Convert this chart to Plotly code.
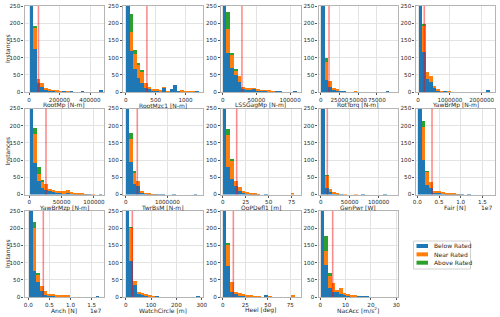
import plotly.graph_objects as go

# ---------------- data ----------------
panel_names = ["RootMp [N-m]", "RootMzc1 [N-m]", "LSSGagMp [N-m]", "RotTorq [N-m]", "YawBrMp [N-m]",
               "YawBrMzp [N-m]", "TwrBsM [N-m]", "OoPDefl1 [m]", "GenPwr [W]", "Fair [N]",
               "Anch [N]", "WatchCircle [m]", "Heel [deg]", "NacAcc [m/s<sup>2</sup>]"]
series_names = ["Below Rated", "Near Rated", "Above Rated"]

bin_start = [0] * 14
bin_width = [24000, 61, 5500, 4800, 112000, 5600, 86000, 4.1, 6300, 880000, 880000, 14.6, 4.2, 1.45]
rated_value = [62000, 353, 28600, 11100, 197000, 25800, 278000, 15.2, 11400, 3.39e6, 3.56e6, 26, 11.8, 4.9]

below_RootMp = [1000, 125, 25, 16, 8, 4, 3, 2, 1, 1, 1, 1, 0, 0, 1, 0, 0, 0, 0, 5]
near_RootMp = [0, 62, 14, 10, 4, 2, 2, 1, 1, 0, 1, 0, 0, 0, 0, 0, 0, 0, 0, 0]
above_RootMp = [0, 2, 0, 0, 0, 0, 0, 0, 0, 0, 0, 0, 0, 0, 0, 0, 0, 0, 0, 0]

below_RootMzc1 = [1000, 120, 67, 40, 25, 12, 8, 5, 3, 2, 12, 1, 8, 19, 1, 1, 0, 0, 0, 1]
near_RootMzc1 = [0, 55, 44, 40, 36, 14, 8, 5, 4, 2, 1, 1, 0, 0, 0, 3, 2, 2, 1, 0]
above_RootMzc1 = [0, 52, 10, 3, 1, 0, 0, 0, 0, 0, 0, 0, 0, 0, 0, 0, 0, 0, 0, 0]

below_LSSGagMp = [1000, 113, 70, 48, 28, 8, 6, 7, 9, 5, 4, 3, 2, 1, 1, 1, 0, 0, 0, 1]
near_LSSGagMp = [0, 70, 38, 15, 18, 8, 6, 5, 1, 2, 1, 1, 1, 1, 0, 0, 0, 0, 0, 0]
above_LSSGagMp = [0, 50, 4, 2, 0, 0, 0, 0, 0, 0, 0, 0, 0, 0, 0, 0, 0, 0, 0, 0]

below_RotTorq = [1000, 35, 15, 8, 4, 2, 1, 0, 0, 0, 0, 0, 0, 0, 0, 0, 0, 0, 2, 0]
near_RotTorq = [0, 51, 17, 3, 2, 0, 0, 0, 0, 2, 0, 0, 0, 0, 0, 0, 0, 0, 0, 0]
above_RotTorq = [0, 13, 0, 0, 0, 0, 0, 0, 0, 0, 0, 0, 0, 0, 0, 0, 0, 0, 0, 0]

below_YawBrMp = [1000, 117, 37, 29, 12, 5, 1, 1, 0, 0, 0, 0, 0, 0, 0, 0, 0, 0, 0, 3]
near_YawBrMp = [0, 75, 21, 17, 6, 2, 1, 0, 1, 0, 0, 0, 0, 0, 0, 0, 0, 0, 0, 0]
above_YawBrMp = [0, 5, 0, 0, 0, 0, 0, 0, 0, 0, 0, 0, 0, 0, 0, 0, 0, 0, 0, 0]

below_YawBrMzp = [1000, 93, 40, 21, 15, 11, 8, 6, 5, 4, 5, 3, 2, 2, 1, 1, 1, 0, 0, 1]
near_YawBrMzp = [0, 83, 22, 18, 18, 7, 7, 7, 6, 9, 10, 5, 4, 2, 2, 1, 0, 1, 0, 0]
above_YawBrMzp = [0, 18, 19, 5, 0, 0, 0, 0, 0, 0, 0, 0, 0, 0, 0, 0, 0, 0, 0, 0]

below_TwrBsM = [1000, 96, 32, 25, 8, 3, 2, 1, 1, 1, 1, 0, 0, 1, 0, 0, 0, 0, 0, 1]
near_TwrBsM = [0, 66, 32, 17, 5, 2, 1, 1, 1, 0, 0, 0, 0, 0, 0, 0, 0, 0, 0, 0]
above_TwrBsM = [0, 18, 5, 0, 0, 0, 0, 0, 0, 0, 0, 0, 0, 0, 0, 0, 0, 0, 0, 0]

below_OoPDefl1 = [1000, 81, 47, 27, 13, 5, 4, 2, 1, 1, 0, 1, 0, 0, 0, 0, 0, 0, 0, 0]
near_OoPDefl1 = [0, 94, 54, 15, 11, 8, 6, 4, 2, 1, 0, 0, 0, 0, 0, 0, 0, 0, 3, 0]
above_OoPDefl1 = [0, 16, 2, 0, 0, 0, 0, 0, 0, 0, 0, 0, 0, 0, 0, 0, 0, 0, 0, 0]

below_GenPwr = [1000, 21, 10, 4, 2, 1, 0, 0, 0, 0, 0, 1, 0, 0, 0, 0, 0, 1, 0, 0]
near_GenPwr = [0, 35, 7, 3, 1, 0, 1, 0, 0, 2, 0, 0, 0, 0, 0, 0, 0, 0, 0, 0]
above_GenPwr = [0, 1, 0, 0, 0, 0, 0, 0, 0, 0, 0, 0, 0, 0, 0, 0, 0, 0, 0, 0]

below_Fair = [1000, 101, 29, 21, 7, 5, 3, 2, 2, 1, 1, 1, 0, 1, 0, 0, 0, 0, 0, 0]
near_Fair = [0, 98, 38, 16, 6, 6, 4, 3, 2, 2, 1, 0, 0, 0, 0, 0, 0, 0, 0, 0]
above_Fair = [0, 17, 2, 0, 0, 0, 0, 0, 0, 0, 0, 0, 0, 0, 0, 0, 0, 0, 0, 0]

below_Anch = [1000, 76, 45, 18, 7, 4, 3, 2, 1, 1, 1, 0, 0, 0, 0, 0, 0, 0, 1, 0]
near_Anch = [0, 126, 20, 14, 11, 6, 5, 3, 3, 2, 2, 0, 0, 0, 0, 0, 0, 0, 0, 0]
above_Anch = [0, 15, 2, 0, 0, 0, 0, 0, 0, 0, 0, 0, 0, 0, 0, 0, 0, 0, 0, 0]

below_WatchCircle = [1000, 105, 35, 11, 6, 4, 2, 1, 1, 0, 0, 0, 0, 0, 0, 0, 0, 0, 0, 1]
near_WatchCircle = [0, 96, 11, 5, 5, 2, 1, 1, 0, 0, 0, 0, 0, 0, 0, 0, 0, 0, 0, 0]
above_WatchCircle = [0, 1, 0, 0, 0, 0, 0, 0, 0, 0, 0, 0, 0, 0, 0, 0, 0, 0, 0, 0]

below_Heel = [1000, 89, 15, 8, 4, 3, 2, 2, 1, 0, 0, 3, 0, 0, 0, 0, 0, 0, 0, 0]
near_Heel = [0, 64, 28, 6, 7, 4, 2, 2, 1, 1, 0, 0, 1, 0, 0, 0, 0, 0, 3, 0]
above_Heel = [0, 5, 0, 0, 0, 0, 0, 0, 0, 0, 0, 0, 0, 0, 0, 0, 0, 0, 0, 0]

below_NacAcc = [1000, 94, 25, 14, 15, 9, 6, 3, 2, 2, 1, 1, 1, 0, 0, 0, 0, 0, 0, 0]
near_NacAcc = [0, 40, 35, 28, 5, 17, 6, 3, 3, 1, 0, 0, 0, 0, 0, 0, 0, 0, 0, 0]
above_NacAcc = [0, 42, 10, 0, 0, 0, 0, 0, 0, 0, 0, 0, 0, 0, 0, 0, 0, 0, 0, 0]

x_tickvals = [[0, 200000, 400000], [0, 500, 1000], [0, 50000, 100000], [0, 25000, 50000, 75000],
              [0, 1000000, 2000000], [0, 50000, 100000], [0, 1000000], [0, 25, 50, 75],
              [0, 50000, 100000], [0, 5e6, 1e7, 1.5e7], [0, 5e6, 1e7, 1.5e7], [0, 100, 200, 300],
              [0, 25, 50, 75], [0, 10, 20, 30]]
x_ticktext = [["0", "200000", "400000"], ["0", "500", "1000"], ["0", "50000", "100000"],
              ["0", "25000", "50000", "75000"], ["0", "1000000", "2000000"], ["0", "50000", "100000"],
              ["0", "1000000"], ["0", "25", "50", "75"], ["0", "50000", "100000"],
              ["0.0", "0.5", "1.0", "1.5"], ["0.0", "0.5", "1.0", "1.5"], ["0", "100", "200", "300"],
              ["0", "25", "50", "75"], ["0", "10", "20", "30"]]
offset_text = ["", "", "", "", "", "", "", "", "", "1e7", "1e7", "", "", ""]
y_tickvals = [0, 50, 100, 150, 200, 250]

below = [below_RootMp, below_RootMzc1, below_LSSGagMp, below_RotTorq, below_YawBrMp, below_YawBrMzp,
         below_TwrBsM, below_OoPDefl1, below_GenPwr, below_Fair, below_Anch, below_WatchCircle,
         below_Heel, below_NacAcc]
near = [near_RootMp, near_RootMzc1, near_LSSGagMp, near_RotTorq, near_YawBrMp, near_YawBrMzp,
        near_TwrBsM, near_OoPDefl1, near_GenPwr, near_Fair, near_Anch, near_WatchCircle,
        near_Heel, near_NacAcc]
above = [above_RootMp, above_RootMzc1, above_LSSGagMp, above_RotTorq, above_YawBrMp, above_YawBrMzp,
         above_TwrBsM, above_OoPDefl1, above_GenPwr, above_Fair, above_Anch, above_WatchCircle,
         above_Heel, above_NacAcc]

# ---------------- styling / layout ----------------
W, H = 500, 317
colors = ["#1f77b4", "#ff7f0e", "#2ca02c"]
x_ranges = [[-29500, 491800], [-48, 1285], [-2500, 115500], [-2940, 103350], [-78500, 2418000],
            [-7400, 115500], [-65000, 1843000], [-1.85, 84.6], [-3800, 133300], [-415000, 1.79e7],
            [-900000, 1.794e7], [-10.7, 303], [-1.9, 86.4], [-0.7, 30.7]]
col_left = [24.5, 123, 221, 318.5, 415.5]
ax_w = 79.5
row_top = [6, 108.5, 211]
ax_h = 86
FONT = "DejaVu Sans"
FS = 6.0
TFS = 5.6
TXT = "#262626"

fig = go.Figure()
layout = dict(
    width=W, height=H, margin=dict(l=0, r=0, t=0, b=0),
    paper_bgcolor="white", plot_bgcolor="white",
    barmode="stack", bargap=0, showlegend=False,
    font=dict(family=FONT, size=FS, color=TXT),
)
shapes = []
annotations = []

for i in range(14):
    r, c = divmod(i, 5)
    k = "" if i == 0 else str(i + 1)
    xa, ya = "x" + k, "y" + k
    w = bin_width[i]
    centers = [bin_start[i] + (j + 0.5) * w for j in range(len(below[i]))]
    for vals, nm, col in zip([below[i], near[i], above[i]], series_names, colors):
        fig.add_trace(go.Bar(x=centers, y=vals, width=w, xaxis=xa, yaxis=ya, name=nm,
                             marker=dict(color=col, line=dict(width=0)),
                             showlegend=False, hoverinfo="skip"))
    x0 = col_left[c]
    t0 = row_top[r]
    common = dict(showline=True, mirror=True, linecolor="#b5b5b5", linewidth=1.3,
                  showgrid=True, gridcolor="#e3e3e3", gridwidth=1, zeroline=False,
                  ticks="outside", ticklen=2, tickwidth=0.8, tickcolor="#555555",
                  tickangle=0,
                  tickfont=dict(family=FONT, size=TFS, color=TXT), automargin=False, fixedrange=True)
    layout["xaxis" + k] = dict(domain=[x0 / W, (x0 + ax_w) / W], anchor=ya, range=x_ranges[i],
                               tickmode="array", tickvals=x_tickvals[i], ticktext=x_ticktext[i],
                               **common)
    layout["yaxis" + k] = dict(domain=[1 - (t0 + ax_h) / H, 1 - t0 / H], anchor=xa, range=[0, 250],
                               tickmode="array", tickvals=y_tickvals,
                               ticktext=[str(v) for v in y_tickvals], **common)
    # rated line
    shapes.append(dict(type="line", xref=xa, yref=ya + " domain", x0=rated_value[i], x1=rated_value[i],
                       y0=0, y1=1, line=dict(color="rgba(255,0,0,0.45)", width=1.6), layer="above"))
    # x label
    annotations.append(dict(text=panel_names[i], xref=xa + " domain", yref=ya + " domain",
                            x=0.5, y=0, xanchor="center", yanchor="middle", yshift=-13,
                            showarrow=False, font=dict(family=FONT, size=FS, color=TXT)))
    if offset_text[i]:
        annotations.append(dict(text=offset_text[i], xref=xa + " domain", yref=ya + " domain",
                                x=1, y=0, xanchor="right", yanchor="middle", yshift=-13,
                                showarrow=False, font=dict(family=FONT, size=FS, color=TXT)))
    if c == 0:
        annotations.append(dict(text="Instances", xref="paper", yref=ya + " domain",
                                x=7 / W, y=0.5, xanchor="center", yanchor="middle", textangle=-90,
                                showarrow=False, font=dict(family=FONT, size=FS, color=TXT)))

# legend (drawn manually to match compact matplotlib legend)
lx0, lx1, ly0, ly1 = 413.5, 470.5, 241, 269
shapes.append(dict(type="rect", xref="paper", yref="paper", x0=lx0 / W, x1=lx1 / W,
                   y0=1 - ly1 / H, y1=1 - ly0 / H, line=dict(color="#d0d0d0", width=1),
                   fillcolor="white", layer="above"))
for j, (nm, col) in enumerate(zip(series_names, colors)):
    yc = 246 + j * 8.35
    shapes.append(dict(type="rect", xref="paper", yref="paper", x0=416.5 / W, x1=428 / W,
                       y0=1 - (yc + 2) / H, y1=1 - (yc - 2) / H, line=dict(width=0),
                       fillcolor=col, layer="above"))
    annotations.append(dict(text=nm, xref="paper", yref="paper", x=432 / W, y=1 - yc / H,
                            xanchor="left", yanchor="middle", showarrow=False,
                            font=dict(family=FONT, size=FS, color=TXT)))

layout["shapes"] = shapes
layout["annotations"] = annotations
fig.update_layout(**layout)
fig.write_html("out.html", config={"displayModeBar": False},
               post_script="document.body.style.margin='0';document.body.style.overflow='hidden';")
